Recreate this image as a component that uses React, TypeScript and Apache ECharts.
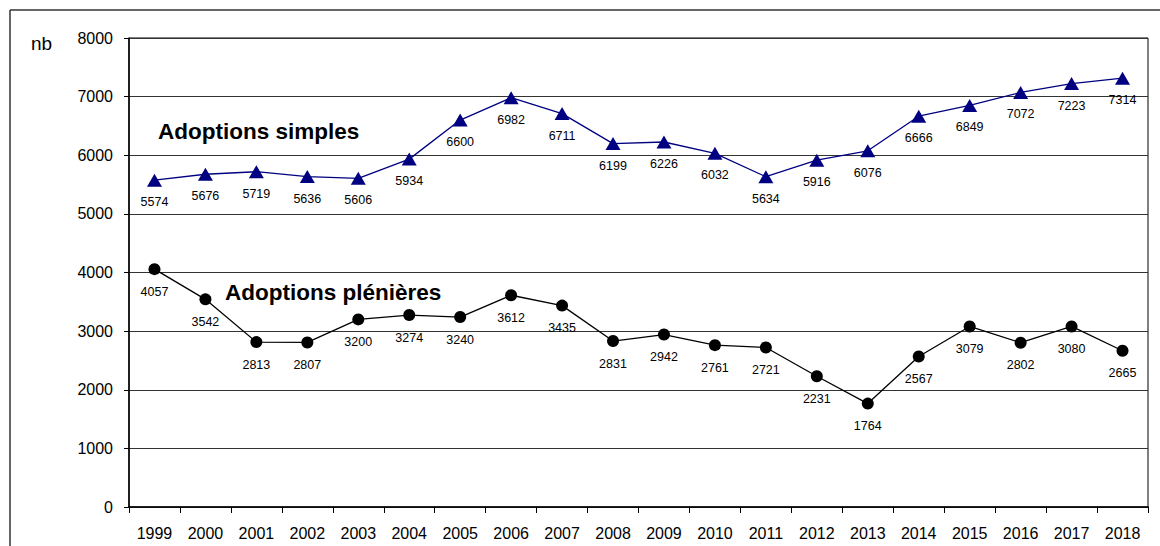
import React, { useEffect, useRef } from "react";
import * as echarts from "echarts";

const years = ["1999","2000","2001","2002","2003","2004","2005","2006","2007","2008","2009","2010","2011","2012","2013","2014","2015","2016","2017","2018"];
const simples = [5574,5676,5719,5636,5606,5934,6600,6982,6711,6199,6226,6032,5634,5916,6076,6666,6849,7072,7223,7314];
const plenieres = [4057,3542,2813,2807,3200,3274,3240,3612,3435,2831,2942,2761,2721,2231,1764,2567,3079,2802,3080,2665];
const yTicks = { min: 0, max: 8000, interval: 1000 };
const font = "Liberation Sans, Arial, sans-serif";

export default function App() {
  const ref = useRef<HTMLDivElement>(null);
  useEffect(() => {
    const chart = echarts.init(ref.current!, null, { renderer: "svg" });
    chart.setOption({
      animation: false,
      backgroundColor: "#fff",
      textStyle: { fontFamily: font },
      grid: { left: 129, right: 12, top: 38, bottom: 39, show: true, borderColor: "#000", borderWidth: 1 },
      xAxis: {
        type: "category",
        data: years,
        boundaryGap: true,
        axisLine: { lineStyle: { color: "#000", width: 1.5 } },
        axisTick: { show: true, length: 6, lineStyle: { color: "#000" } },
        axisLabel: { color: "#000", fontSize: 16, margin: 18, fontFamily: font },
        splitLine: { show: false },
      },
      yAxis: {
        type: "value",
        min: yTicks.min,
        max: yTicks.max,
        interval: yTicks.interval,
        axisLine: { show: true, lineStyle: { color: "#000", width: 1.5 } },
        axisTick: { show: true, length: 5, lineStyle: { color: "#000" } },
        axisLabel: { color: "#000", fontSize: 16, margin: 16, fontFamily: font, formatter: (v: number) => String(v) },
        splitLine: { show: true, lineStyle: { color: "#333", width: 1 } },
      },
      graphic: [
        { type: "line", shape: { x1: 10, y1: 10, x2: 1160, y2: 10 }, style: { stroke: "#333", lineWidth: 1.5 } },
        { type: "line", shape: { x1: 10, y1: 10, x2: 10, y2: 546 }, style: { stroke: "#333", lineWidth: 1.5 } },
        { type: "text", x: 31, y: 43, style: { text: "nb", fill: "#000", font: `19px ${font}`, verticalAlign: "middle" } },
        { type: "text", x: 158, y: 131, style: { text: "Adoptions simples", fill: "#000", font: `bold 22.5px ${font}`, verticalAlign: "middle" } },
        { type: "text", x: 225, y: 292, style: { text: "Adoptions plénières", fill: "#000", font: `bold 22.5px ${font}`, verticalAlign: "middle" } },
      ],
      series: [
        {
          name: "Adoptions simples",
          type: "line",
          data: simples,
          symbol: "triangle",
          symbolSize: [15, 13],
          itemStyle: { color: "#000080" },
          lineStyle: { color: "#000080", width: 1.3 },
          label: { show: true, position: "bottom", distance: 9, fontSize: 12.5, color: "#000", fontFamily: font },
        },
        {
          name: "Adoptions plénières",
          type: "line",
          data: plenieres,
          symbol: "circle",
          symbolSize: 12,
          itemStyle: { color: "#000" },
          lineStyle: { color: "#000", width: 1.3 },
          label: { show: true, position: "bottom", distance: 10, fontSize: 12.5, color: "#000", fontFamily: font },
        },
      ],
    });
    return () => chart.dispose();
  }, []);
  return <div ref={ref} style={{ position: "fixed", left: 0, top: 0, width: 1160, height: 546 }} />;
}
